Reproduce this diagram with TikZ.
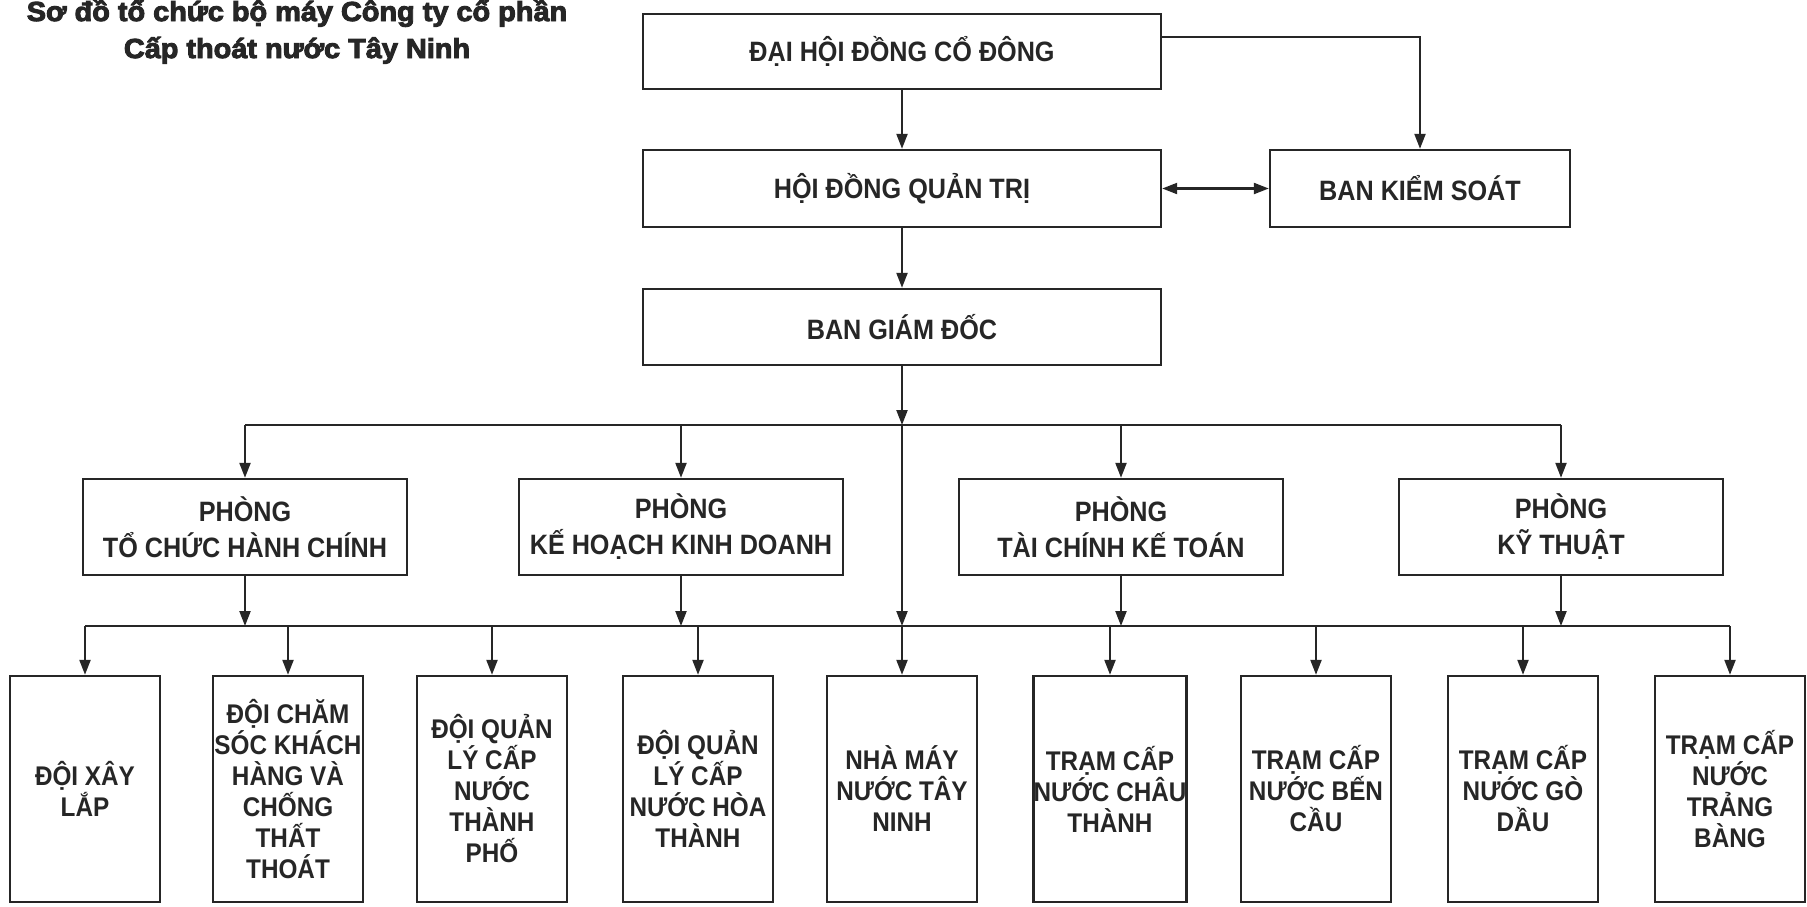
\documentclass[tikz,border=0pt]{standalone}
\usepackage{fontspec}
\setmainfont{Liberation Sans}
\newfontfamily\boxfont{Liberation Sans}[BoldFeatures={FakeStretch=0.9}]
\newfontfamily\titlefont{Liberation Sans}[BoldFeatures={FakeBold=3.5,FakeStretch=1.05}]
\usetikzlibrary{arrows.meta}
\tikzset{
  box/.style={draw=black!85, line width=2.4pt, inner sep=0pt, align=center, text=black!85},
  topbox/.style={box, minimum width=518, font={\boxfont\bfseries\fontsize{28}{32}\selectfont}},
  pbox/.style={box, minimum width=324, minimum height=96, font={\boxfont\bfseries\fontsize{28}{36}\selectfont}},
  unitbox/.style={box, minimum width=150, minimum height=226, font={\boxfont\bfseries\fontsize{27}{31}\selectfont}},
  link/.style={draw=black!85, line width=2.2pt},
  arr/.style={link, -{Triangle[length=15pt,width=11pt]}},
  arrs/.style={link, {Triangle[length=15pt,width=11pt]}-{Triangle[length=15pt,width=11pt]}},
  ttl/.style={anchor=base, text=black!85, font={\titlefont\bfseries\fontsize{27.5}{30}\selectfont}}
}
\begin{document}
\begin{tikzpicture}[x=1pt,y=-1pt]
\path[use as bounding box, fill=white] (0,0) rectangle (1807,906);
% title
\node[ttl] (t1) at (297,21) {Sơ đồ tổ chức bộ máy Công ty cổ phần};
\node[ttl] (t2) at (297,58) {Cấp thoát nước Tây Ninh};
% top levels
\node[topbox, minimum height=75] (dh) at (902,51.5) {ĐẠI HỘI ĐỒNG CỔ ĐÔNG};
\node[topbox, minimum height=77] (hd) at (902,188.5) {HỘI ĐỒNG QUẢN TRỊ};
\node[topbox, minimum width=300, minimum height=77] (bks) at (1420,188.5) {BAN KIỂM SOÁT};
\node[topbox, minimum height=76] (bgd) at (902,327) {BAN GIÁM ĐỐC};
% departments
\node[pbox] (p1) at (245,527) {PHÒNG\\TỔ CHỨC HÀNH CHÍNH};
\node[pbox] (p2) at (681,527) {PHÒNG\\KẾ HOẠCH KINH DOANH};
\node[pbox] (p3) at (1121,527) {PHÒNG\\TÀI CHÍNH KẾ TOÁN};
\node[pbox] (p4) at (1561,527) {PHÒNG\\KỸ THUẬT};
% units
\node[unitbox] (u1) at (85,789) {ĐỘI XÂY\\LẮP};
\node[unitbox] (u2) at (288,789) {ĐỘI CHĂM\\SÓC KHÁCH\\HÀNG VÀ\\CHỐNG\\THẤT\\THOÁT};
\node[unitbox] (u3) at (492,789) {ĐỘI QUẢN\\LÝ CẤP\\NƯỚC\\THÀNH\\PHỐ};
\node[unitbox] (u4) at (698,789) {ĐỘI QUẢN\\LÝ CẤP\\NƯỚC HÒA\\THÀNH};
\node[unitbox] (u5) at (902,789) {NHÀ MÁY\\NƯỚC TÂY\\NINH};
\node[unitbox] (u6) at (1110,789) {TRẠM CẤP\\NƯỚC CHÂU\\THÀNH};
\node[unitbox] (u7) at (1316,789) {TRẠM CẤP\\NƯỚC BẾN\\CẦU};
\node[unitbox] (u8) at (1523,789) {TRẠM CẤP\\NƯỚC GÒ\\DẦU};
\node[unitbox] (u9) at (1730,789) {TRẠM CẤP\\NƯỚC\\TRẢNG\\BÀNG};
% helper coordinates
\coordinate (k1) at (1420,37);
\coordinate (b1) at (902,425);
\coordinate (b2) at (902,626);
% connectors
\draw[arr] (dh) -- (hd);
\draw[arr] (dh.east |- k1) -| (bks.north);
\draw[arrs] (hd.east) -- (bks.west);
\draw[arr] (hd) -- (bgd);
\draw[arr] (bgd.south) -- (b1);
\draw[link] (p1.north |- b1) -- (p4.north |- b1);
\foreach \p in {p1,p2,p3,p4} {\draw[arr] (\p.north |- b1) -- (\p.north);}
\draw[arr] (b1) -- (b2);
\draw[arr] (b2) -- (u5.north);
\draw[link] (u1.north |- b2) -- (u9.north |- b2);
\foreach \p in {p1,p2,p3,p4} {\draw[arr] (\p.south) -- (\p.south |- b2);}
\foreach \u in {u1,u2,u3,u4,u6,u7,u8,u9} {\draw[arr] (\u.north |- b2) -- (\u.north);}
\end{tikzpicture}
\end{document}
